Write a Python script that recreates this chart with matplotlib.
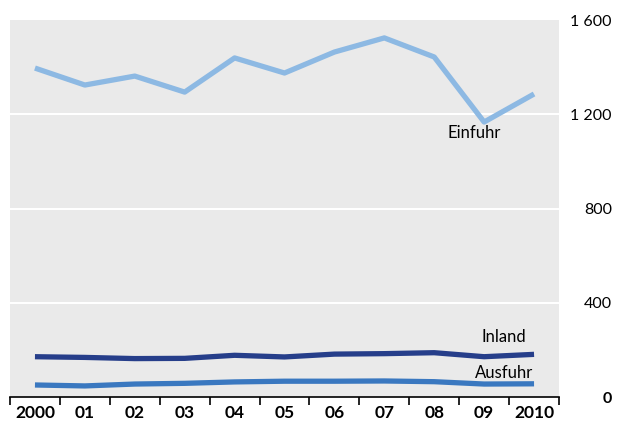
import numpy as np
import matplotlib.pyplot as plt

# Data
years = ['2000', '01', '02', '03', '04', '05', '06', '07', '08', '09', '2010']
einfuhr = [1396, 1324, 1362, 1294, 1439, 1375, 1464, 1524, 1443, 1167, 1286]
inland = [171, 168, 163, 164, 177, 170, 182, 184, 188, 171, 181]
ausfuhr = [51, 47, 55, 58, 64, 67, 67, 68, 65, 55, 56]
y_ticks = [0, 400, 800, 1200, 1600]
y_labels = ['0', '400', '800', '1 200', '1 600']

plt.rcParams['font.family'] = ['Lato', 'DejaVu Sans']

fig = plt.figure(figsize=(6.17, 4.23), dpi=100)
ax = fig.add_axes([10 / 617, 26 / 423, 549 / 617, 377 / 423])
ax.set_facecolor('#eaeaea')

x = np.arange(len(years))
ax.plot(x, einfuhr, color='#8db9e3', lw=3.8, solid_capstyle='butt', zorder=3)
ax.plot(x, inland, color='#263e8a', lw=3.8, solid_capstyle='butt', zorder=3)
ax.plot(x, ausfuhr, color='#3a78c0', lw=3.8, solid_capstyle='butt', zorder=3)

ax.set_xlim(-0.5, len(years) - 0.5)
ax.set_ylim(0, 1600)

# grid
for v in y_ticks[1:-1]:
    ax.axhline(v, color='white', lw=1.5, zorder=1)

# y labels on the right
ax.set_yticks(y_ticks)
ax.set_yticklabels(y_labels)
ax.tick_params(axis='y', length=0, pad=38, labelright=True, labelleft=False,
               labelsize=11.5)
for lab in ax.get_yticklabels():
    lab.set_horizontalalignment('right')
ax.get_yticklabels()[0].set_fontweight('bold')

# x axis: ticks between bins, labels at bin centres
ax.set_xticks(np.arange(-0.5, len(years)), minor=False)
ax.set_xticklabels([])
ax.tick_params(axis='x', which='major', length=6, width=1.2, color='black',
               direction='out')
ax.set_xticks(x, minor=True)
ax.set_xticklabels(years, minor=True, fontweight='bold', fontsize=12.5)
ax.tick_params(axis='x', which='minor', length=0, pad=6)

for s in ['top', 'left', 'right']:
    ax.spines[s].set_visible(False)
ax.spines['bottom'].set_linewidth(1.2)
ax.spines['bottom'].set_zorder(4)

ax.text(8.8, 1120, 'Einfuhr', ha='center', va='center', fontsize=12)
ax.text(9.4, 255, 'Inland', ha='center', va='center', fontsize=12)
ax.text(9.4, 102, 'Ausfuhr', ha='center', va='center', fontsize=12)

fig.savefig('out.png', dpi=100)
